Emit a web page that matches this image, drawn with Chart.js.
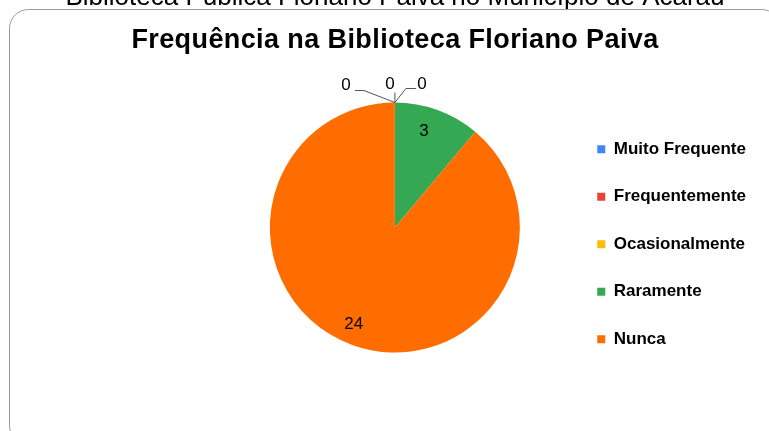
<!DOCTYPE html>
<html lang="pt">

<head>
    <meta charset="UTF-8">
    <title>Frequência na Biblioteca Floriano Paiva</title>
    <script src="https://cdn.jsdelivr.net/npm/chart.js"></script>
    <style>
        html, body { margin: 0; padding: 0; background: #fff; }
        #wrap { width: 769px; height: 431px; }
    </style>
</head>

<body>
    <div id="wrap"><canvas id="myChart" width="769" height="431"></canvas></div>

    <script>
        const categorias = ['Muito Frequente', 'Frequentemente', 'Ocasionalmente', 'Raramente', 'Nunca'];
        const respostas = [0, 0, 0, 3, 24];
        const cores = ['#4285F4', '#EA4335', '#FBBC04', '#34A853', '#FF6D01'];
        const tituloGrafico = 'Frequência na Biblioteca Floriano Paiva';
        const tituloPagina = 'Biblioteca Pública Floriano Paiva no Município de Acaraú';

        const fonte = '"Liberation Sans", Arial, sans-serif';

        // moldura arredondada, texto cortado no topo e titulo
        const moldura = {
            id: 'moldura',
            beforeDraw(chart) {
                const ctx = chart.ctx;
                ctx.save();
                ctx.fillStyle = '#fff';
                ctx.fillRect(0, 0, chart.width, chart.height);
                ctx.fillStyle = '#000';
                ctx.textAlign = 'center';
                ctx.textBaseline = 'alphabetic';
                ctx.font = '26px ' + fonte;
                ctx.fillText(tituloPagina, 395, 5);
                ctx.strokeStyle = '#9a9a9a';
                ctx.lineWidth = 1;
                ctx.beginPath();
                ctx.roundRect(9.5, 9.5, 771, 435, 19);
                ctx.stroke();
                ctx.font = 'bold 27px ' + fonte;
                ctx.letterSpacing = '0.4px';
                ctx.fillText(tituloGrafico, 395, 48);
                ctx.restore();
            }
        };

        // rotulos de valor, com linhas guia para as fatias vazias
        const rotulos = {
            id: 'rotulos',
            afterDatasetsDraw(chart) {
                const ctx = chart.ctx;
                const meta = chart.getDatasetMeta(0);
                const guias = [
                    { cot: [-31, -12], fim: [-40, -12], txt: [-49, -17] },
                    { cot: [0, -10], fim: [0, -10], txt: [-5, -18] },
                    { cot: [11, -14], fim: [21, -14], txt: [27, -18] }
                ];
                let z = 0;
                ctx.save();
                ctx.font = '17px ' + fonte;
                ctx.fillStyle = '#000';
                ctx.textAlign = 'center';
                ctx.textBaseline = 'middle';
                meta.data.forEach((arc, i) => {
                    const p = arc.getProps(['x', 'y', 'startAngle', 'endAngle', 'outerRadius'], true);
                    const v = respostas[i];
                    if (v > 0) {
                        const a = (p.startAngle + p.endAngle) / 2;
                        const r = p.outerRadius * 0.82;
                        ctx.fillText(String(v), p.x + Math.cos(a) * r - 6, p.y + Math.sin(a) * r);
                    } else {
                        const g = guias[z % guias.length];
                        z++;
                        const ax = p.x + Math.cos(p.startAngle) * p.outerRadius;
                        const ay = p.y + Math.sin(p.startAngle) * p.outerRadius;
                        ctx.strokeStyle = '#555';
                        ctx.lineWidth = 1;
                        ctx.beginPath();
                        ctx.moveTo(ax, ay);
                        ctx.lineTo(ax + g.cot[0], ay + g.cot[1]);
                        ctx.lineTo(ax + g.fim[0], ay + g.fim[1]);
                        ctx.stroke();
                        ctx.fillText(String(v), ax + g.txt[0], ay + g.txt[1]);
                    }
                });
                ctx.restore();
            }
        };

        new Chart(document.getElementById('myChart'), {
            type: 'pie',
            data: {
                labels: categorias,
                datasets: [{
                    data: respostas,
                    backgroundColor: cores,
                    borderWidth: 0,
                    radius: 125
                }]
            },
            options: {
                responsive: false,
                animation: false,
                layout: {
                    padding: { top: 60, left: 223, right: 13, bottom: 36 }
                },
                plugins: {
                    title: { display: false },
                    legend: {
                        position: 'right',
                        fullSize: false,
                        title: {
                            display: true,
                            text: '',
                            font: { size: 10 },
                            padding: 10.8
                        },
                        labels: {
                            boxWidth: 8,
                            boxHeight: 8,
                            padding: 30.5,
                            color: '#000',
                            font: { family: fonte, size: 17, weight: 'bold' }
                        }
                    },
                    tooltip: { enabled: false }
                }
            },
            plugins: [moldura, rotulos]
        });
    </script>
</body>

</html>
